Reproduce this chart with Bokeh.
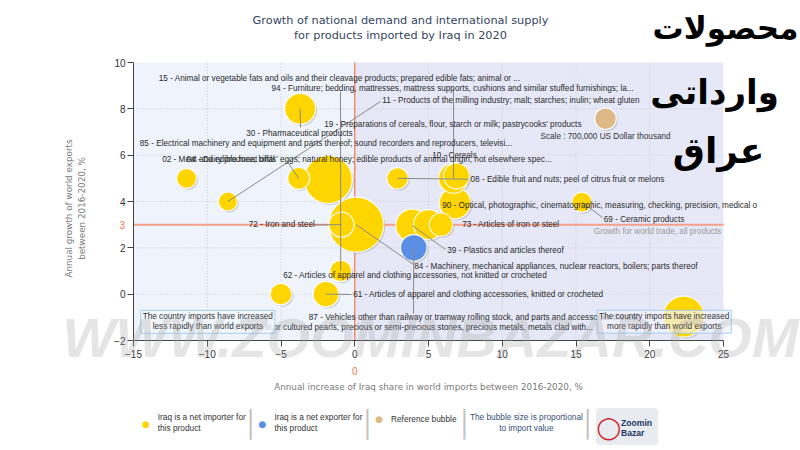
import math
from bokeh.plotting import figure
from bokeh.models import Range1d, Label, LabelSet, ColumnDataSource, BoxAnnotation, FixedTicker
from bokeh.core.properties import value
from bokeh.embed import file_html
from bokeh.resources import INLINE

# ---------------- data ----------------
products = [
    "02 - Meat and edible meat offal",
    "11 - Products of the milling industry; malt; starches; inulin; wheat gluten",
    "30 - Pharmaceutical products",
    "04 - Dairy produce; birds' eggs; natural honey; edible products of animal origin, not elsewhere spec...",
    "85 - Electrical machinery and equipment and parts thereof; sound recorders and reproducers, televisi...",
    "72 - Iron and steel",
    "84 - Machinery, mechanical appliances, nuclear reactors, boilers; parts thereof",
    "94 - Furniture; bedding, mattresses, mattress supports, cushions and similar stuffed furnishings; la...",
    "62 - Articles of apparel and clothing accessories, not knitted or crocheted",
    "61 - Articles of apparel and clothing accessories, knitted or crocheted",
    "08 - Edible fruit and nuts; peel of citrus fruit or melons",
    "15 - Animal or vegetable fats and oils and their cleavage products; prepared edible fats; animal or ...",
    "10 - Cereals",
    "90 - Optical, photographic, cinematographic, measuring, checking, precision, medical o",
    "39 - Plastics and articles thereof",
    "19 - Preparations of cereals, flour, starch or milk; pastrycooks' products",
    "73 - Articles of iron or steel",
    "87 - Vehicles other than railway or tramway rolling stock, and parts and accessories thereof",
    "69 - Ceramic products",
    "71 - Natural or cultured pearls, precious or semi-precious stones, precious metals, metals clad with...",
]
share_growth = [-11.4, -8.6, -3.7, -3.8, -1.8, -0.9, 0.1, -0.95, -5.0, -1.95,
                2.9, 6.7, 6.9, 6.8, 3.9, 5.0, 5.85, 4.0, 15.4, 22.3]
world_growth = [5.0, 4.0, 8.0, 5.0, 4.95, 3.0, 3.0, 1.0, 0.0, 0.0,
                5.0, 5.0, 5.1, 3.93, 2.96, 3.0, 3.0, 2.0, 3.97, -0.97]
import_value = [600000, 540000, 1440000, 730000, 3460000, 940000, 4540000, 690000, 700000, 980000,
                690000, 1350000, 1010000, 1500000, 1630000, 1350000, 820000, 1060000, 600000, 2520000]
net_exporter = [False] * 17 + [True] + [False, False]

x_ticks = [-15, -10, -5, 0, 5, 10, 15, 20, 25]
y_ticks = [-2, 0, 2, 4, 6, 8, 10]
world_trade_growth = 3
reference_value = 700000

# ---------------- layout helpers (screen pixels -> data) ----------------
W, H = 800, 450
X0, X1, Y0, Y1 = x_ticks[0], x_ticks[-1], y_ticks[0], y_ticks[-1]
FL, FR, FT, FB = 133, 723, 62, 340          # plot area in screen pixels
def px(X):
    return X0 + (X - FL) * (X1 - X0) / (FR - FL)
def py(Y):
    return Y0 + (FB - Y) * (Y1 - Y0) / (FB - FT)
XPU = (FR - FL) / (X1 - X0)
YPU = (FB - FT) / (Y1 - Y0)
REF_R = 10.8  # screen radius of the reference bubble

def radius_px(v):
    return REF_R * math.sqrt(v / reference_value)

# label start positions (screen px)
label_px = [
    (161.7, 159.3), (381.7, 100.0), (245.7, 133.3), (186.0, 159.3), (139.3, 143.3),
    (248.3, 224.3), (413.7, 266.0), (271.0, 87.7), (282.7, 275.3), (352.7, 294.0),
    (470.0, 178.7), (158.3, 77.7), (431.7, 155.0), (441.7, 205.0), (446.7, 250.0),
    (323.7, 123.8), (461.7, 224.3), (308.3, 316.7), (603.3, 219.3), (228.0, 327.3),
]
# leader line end points (screen px), by product index
leader_end = {1: (380, 101), 2: (300, 127), 7: (340, 91), 3: (288, 163), 10: (468, 178.7),
              18: (602, 217), 14: (445, 249), 6: (413, 264), 5: (314, 224.3), 9: (351, 294),
              17: (413, 313), 11: (453, 88)}

p = figure(width=W, height=H, x_range=Range1d(px(0), px(W)), y_range=Range1d(py(H), py(0)),
           output_backend="svg", toolbar_location=None, title=None, min_border=0)
p.outline_line_color = None
p.background_fill_color = "white"
p.border_fill_color = "white"

# axes fixed at the plot area's edges
p.xaxis.fixed_location = Y0
p.yaxis.fixed_location = X0
p.xaxis.bounds = (X0, X1)
p.yaxis.bounds = (Y0, Y1)
p.xaxis.ticker = FixedTicker(ticks=x_ticks)
p.yaxis.ticker = FixedTicker(ticks=y_ticks)
p.axis.axis_line_color = "#444444"
p.axis.major_tick_line_color = "#444444"
p.axis.minor_tick_line_color = None
p.axis.major_tick_out = 6
p.axis.major_tick_in = 0
p.axis.major_label_text_font = "Liberation Sans"
p.axis.major_label_text_font_size = "10px"
p.axis.major_label_text_color = "#333333"
p.yaxis.major_label_standoff = 2
p.xaxis.major_label_standoff = 3
p.grid.visible = False

# plot area backgrounds
p.add_layout(BoxAnnotation(left=X0, right=0, bottom=Y0, top=Y1, fill_color="#EEF3FC", fill_alpha=1,
                           line_color=None, level="image"))
p.add_layout(BoxAnnotation(left=0, right=X1, bottom=Y0, top=Y1, fill_color="#E6E8F7", fill_alpha=1,
                           line_color=None, level="image"))

# dotted grid at tick values
gx = x_ticks[1:-1]
gy = y_ticks[1:-1]
p.segment(x0=gx, y0=[Y0] * len(gx), x1=gx, y1=[Y1] * len(gx), line_color="#cdcdcd", line_dash="1 2", line_width=1)
p.segment(x0=[X0] * len(gy), y0=gy, x1=[X1] * len(gy), y1=gy, line_color="#cdcdcd", line_dash="1 2", line_width=1)

# reference lines (zero share growth, world trade growth)
p.segment(x0=[0], y0=[Y0], x1=[0], y1=[Y1], line_color="#F27A52", line_width=1.2)
p.segment(x0=[X0], y0=[world_trade_growth], x1=[X1], y1=[world_trade_growth], line_color="#F5A08A", line_width=2)

# bubbles (largest first)
order = sorted(range(len(products)), key=lambda i: -import_value[i])
src = ColumnDataSource(dict(
    x=[share_growth[i] for i in order],
    y=[world_growth[i] for i in order],
    sx=[share_growth[i] + 1.5 / XPU for i in order],
    sy=[world_growth[i] - 1.5 / YPU for i in order],
    size=[2 * radius_px(import_value[i]) for i in order],
    color=["#5B8FE6" if net_exporter[i] else "#FFD500" for i in order],
))
p.scatter("sx", "sy", size="size", source=src, fill_color="#888888", fill_alpha=0.35, line_color=None)
p.scatter("x", "y", size="size", source=src, fill_color="color", line_color="#FFFFFF", line_alpha=0.9, line_width=1.2)

# reference bubble
ref_x, ref_y = px(605), py(118.3)
p.scatter([ref_x + 1.5 / XPU], [ref_y - 1.5 / YPU], size=2 * REF_R, fill_color="#888888", fill_alpha=0.35, line_color=None)
p.scatter([ref_x], [ref_y], size=2 * REF_R, fill_color="#DEB887", line_color="#FFFFFF", line_width=1.2)

# leader lines
lk = sorted(leader_end)
p.segment(x0=[share_growth[i] for i in lk], y0=[world_growth[i] for i in lk],
          x1=[px(leader_end[i][0]) for i in lk], y1=[py(leader_end[i][1]) for i in lk],
          line_color="#8a8a8a", line_width=1)

# product labels
lsrc = ColumnDataSource(dict(x=[px(a) for a, b in label_px], y=[py(b) for a, b in label_px], text=products))
p.add_layout(LabelSet(x="x", y="y", text="text", source=lsrc, text_font=value("Liberation Sans"),
                      text_font_size="8.2px", text_color="#2a2a2a", text_baseline="middle", text_align="left"))

def lab(X, Y, text, size="8.2px", font="Liberation Sans", color="#333333", align="left", style="normal", **kw):
    l = Label(x=px(X), y=py(Y), text=text, text_font=font, text_font_size=size, text_color=color,
              text_align=align, text_baseline="middle", text_font_style=style, **kw)
    p.add_layout(l)
    return l

lab(540, 136, f"Scale : {reference_value:,} US Dollar thousand")
lab(720.7, 230.7, "Growth for world trade, all products", color="#9a9a9a", align="right")

# quadrant boxes
lab(207.3, 321.3, "The country imports have increased\nless rapidly than world exports", align="center",
    background_fill_color="#F3F7FD", background_fill_alpha=0.8, border_line_color="#A4CDEF",
    padding=2, text_line_height=1.1)
lab(663.7, 321.2, "The country imports have increased\nmore rapidly than world exports", align="center",
    background_fill_color="#F1F2FB", background_fill_alpha=0.7, border_line_color="#A4CDEF",
    padding=2, text_line_height=1.1)

# orange special ticks
lab(121.7, 224.3, str(world_trade_growth), size="10px", color="#F27A52", align="center")
lab(354.3, 370, "0", size="10px", color="#F27A52", align="center")

# titles
lab(400, 27.5, "Growth of national demand and international supply\nfor products imported by Iraq in 2020",
    size="11.3px", font="DejaVu Sans", color="#34465E", align="center", text_line_height=1.2)
lab(428, 386, "Annual increase of Iraq share in world imports between 2016-2020, %",
    size="8.8px", font="DejaVu Sans", color="#7a7a7a", align="center")
lab(75, 208, "Annual growth of world exports\nbetween 2016-2020, %", size="8.8px", font="DejaVu Sans",
    color="#7a7a7a", align="center", angle=math.pi / 2, text_line_height=1.25)

# legend
lab(145.4, 423, "●", size="9px", font="DejaVu Sans", color="#FFD500", align="center")
lab(157.2, 422, "Iraq is a net importer for\nthis product", size="8.3px", text_line_height=1.12)
lab(262, 423, "●", size="9px", font="DejaVu Sans", color="#5B8FE6", align="center")
lab(273.9, 422, "Iraq is a net exporter for\nthis product", size="8.3px", text_line_height=1.12)
lab(378.7, 418.3, "●", size="9px", font="DejaVu Sans", color="#DEB887", align="center")
lab(390.5, 418.3, "Reference bubble", size="8.3px")
lab(525.9, 422, "The bubble size is proportional\nto import value", size="8.3px", color="#34507A",
    align="center", text_line_height=1.12)
for sxp in (250.2, 366.8, 463.8, 587):
    lab(sxp, 423.7, "│", size="26px", font="DejaVu Sans Mono", color="#c4c4c4", align="center")
lab(626.5, 426, "\u00a0" * 7, size="30px", align="center", background_fill_color="#E8EBF0",
    padding=2, border_radius=4)
lab(608.4, 427.3, "◯", size="22px", font="DejaVu Sans", color="#D21F2B", align="center", style="bold")
lab(620.5, 427, "Zoomin\nBazar", size="8.6px", color="#1B3768", style="bold", text_line_height=1.0)

# Persian heading
lab(725, 27, "محصولات", size="31px", font="DejaVu Sans", color="#000000", align="center", style="bold")
lab(714, 91, "وارداتی", size="34px", font="DejaVu Sans", color="#000000", align="center", style="bold")
lab(718, 150, "عراق", size="36px", font="DejaVu Sans", color="#000000", align="center", style="bold")

# watermark
lab(430, 337, "WWW.ZOOMINBAZAR.COM", size="56px", font="Liberation Sans", color="#a8a8a8",
    align="center", style="bold italic", text_alpha=0.3)

open("out.html", "w").write(file_html(p, INLINE))
